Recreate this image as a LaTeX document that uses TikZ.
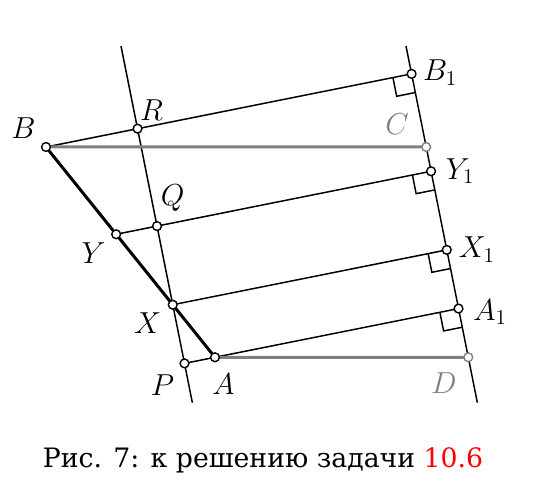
\documentclass[tikz,border=0pt]{standalone}
\usepackage{fontspec}
\setmainfont{DejaVu Serif}
\usetikzlibrary{calc}
\begin{document}
\begin{tikzpicture}[line width=0.85pt]
  \useasboundingbox (0,0) rectangle (10.66,9.62);
  \def\rad{0.088}
  \coordinate (L1) at (2.42,8.70);
  \coordinate (L2) at (3.847,1.566);
  \coordinate (M1) at (8.12,8.70);
  \coordinate (M2) at (9.547,1.566);
  \coordinate (B) at (0.92,6.68);
  \coordinate (A) at (4.30,2.474);
  \coordinate (Y) at ($(B)!0.415!(A)$);
  \coordinate (X) at (intersection of B--A and L1--L2);
  \coordinate (B1) at ($(M1)!(B)!(M2)$);
  \coordinate (Y1) at ($(M1)!(Y)!(M2)$);
  \coordinate (X1) at ($(M1)!(X)!(M2)$);
  \coordinate (A1) at ($(M1)!(A)!(M2)$);
  \coordinate (R) at (intersection of B--B1 and L1--L2);
  \coordinate (Q) at (intersection of Y--Y1 and L1--L2);
  \coordinate (P) at (intersection of A--A1 and L1--L2);
  \coordinate (Bh) at ($(B)+(1,0)$);
  \coordinate (Ah) at ($(A)+(1,0)$);
  \coordinate (C) at (intersection of B--Bh and M1--M2);
  \coordinate (D) at (intersection of A--Ah and M1--M2);
      \draw (L1) -- (L2);
      \draw (M1) -- (M2);
      \draw (B) -- (B1);
      \draw (Y) -- (Y1);
      \draw (X) -- (X1);
      \draw (P) -- (A1);
      \foreach \p in {B1,Y1,X1,A1}
        \draw ([shift={(-0.373,-0.075)}]\p) -- ++(0.075,-0.373) -- ++(0.373,0.075);
      \draw[gray,line width=1.7pt] (B) -- (C);
      \draw[gray,line width=1.7pt] (A) -- (D);
      \draw[line width=1.7pt] (B) -- (A);
      \foreach \p in {B,R,Q,Y,X,P,A,B1,Y1,X1,A1}
        \draw[line width=0.8pt,fill=white] (\p) circle (\rad);
      \draw[gray,line width=0.8pt,fill=white] (C) circle (\rad);
      \draw[gray,line width=0.8pt,fill=white] (D) circle (\rad);
      \node[font=\LARGE] (lB) at ($(B)+(-0.45,0.38)$) {$B$};
      \node[font=\LARGE] (lR) at ($(R)+(0.28,0.38)$) {$R$};
      \node[font=\LARGE] (lQ) at ($(Q)+(0.31,0.57)$) {$Q$};
      \node[font=\LARGE] (lY) at ($(Y)+(-0.45,-0.38)$) {$Y$};
      \node[font=\LARGE] (lX) at ($(X)+(-0.50,-0.37)$) {$X$};
      \node[font=\LARGE] (lP) at ($(P)+(-0.44,-0.44)$) {$P$};
      \node[font=\LARGE] (lA) at ($(A)+(0.17,-0.54)$) {$A$};
      \node[font=\LARGE] (lB1) at ($(B1)+(0.57,0.03)$) {$B_1$};
      \node[font=\LARGE,gray] (lC) at ($(C)+(-0.58,0.45)$) {$C$};
      \node[font=\LARGE] (lY1) at ($(Y1)+(0.58,0)$) {$Y_1$};
      \node[font=\LARGE] (lX1) at ($(X1)+(0.60,0)$) {$X_1$};
      \node[font=\LARGE] (lA1) at ($(A1)+(0.63,-0.07)$) {$A_1$};
      \node[font=\LARGE,gray] (lD) at ($(D)+(-0.49,-0.52)$) {$D$};
      \node[anchor=base,font=\fontsize{15.2}{18}\selectfont] (cap) at (5.26,0.266)
        {Рис. 7: к решению задачи \textcolor{red}{10.6}};
  \end{tikzpicture}
\end{document}
